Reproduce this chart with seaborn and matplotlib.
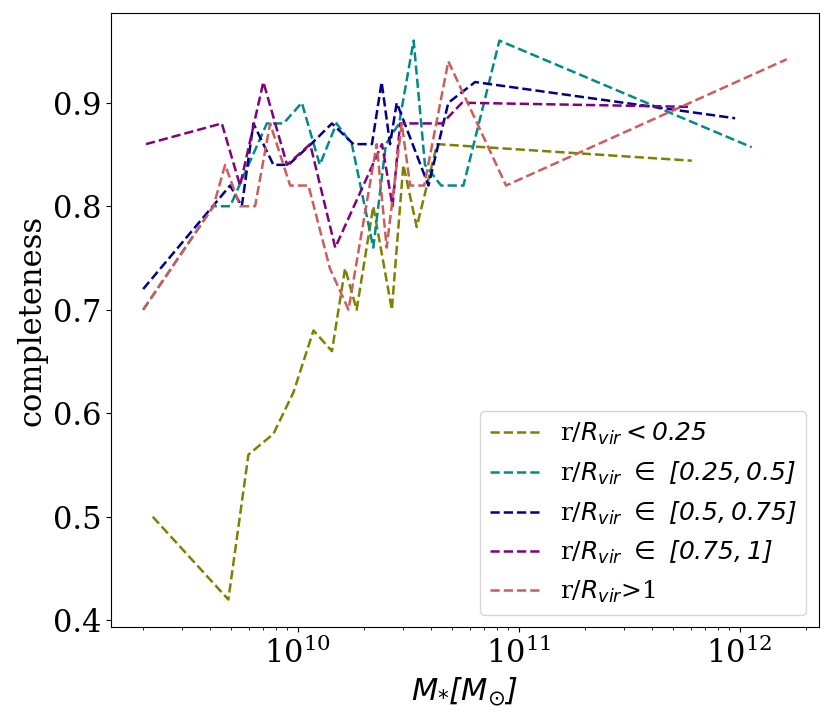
import matplotlib
matplotlib.use("Agg")
import matplotlib.pyplot as plt
import seaborn as sns
import pandas as pd

# ---- data ----
labels = [
    r"r/$R_{vir} < 0.25$",
    r"r/$R_{vir}$ $\in$ $[0.25, 0.5]$",
    r"r/$R_{vir}$ $\in$ $[0.5, 0.75]$",
    r"r/$R_{vir}$ $\in$ $[0.75, 1]$",
    r"r/$R_{vir}$>1",
]
colors = ["olive", "darkcyan", "darkblue", "purple", "indianred"]

mass_r0 = [2.21e9, 4.86e9, 5.99e9, 7.77e9, 9.57e9, 1.18e10, 1.43e10, 1.64e10,
           1.85e10, 2.20e10, 2.67e10, 3.01e10, 3.46e10, 4.28e10, 6.08e11]
comp_r0 = [0.50, 0.42, 0.56, 0.58, 0.62, 0.68, 0.66, 0.74,
           0.70, 0.80, 0.70, 0.84, 0.78, 0.86, 0.844]

mass_r1 = [2.0e9, 4.16e9, 4.95e9, 7.26e9, 8.63e9, 1.045e10, 1.26e10, 1.50e10,
           1.76e10, 2.20e10, 2.51e10, 2.88e10, 3.35e10, 3.77e10, 4.46e10,
           5.63e10, 8.19e10, 1.135e12]
comp_r1 = [0.70, 0.80, 0.80, 0.88, 0.88, 0.90, 0.84, 0.88,
           0.86, 0.76, 0.86, 0.88, 0.96, 0.84, 0.82,
           0.82, 0.96, 0.857]

mass_r2 = [2.0e9, 4.95e9, 5.59e9, 6.31e9, 7.77e9, 9.09e9, 1.15e10, 1.43e10,
           1.79e10, 2.17e10, 2.40e10, 2.62e10, 2.81e10, 3.91e10, 4.81e10,
           6.36e10, 9.55e11]
comp_r2 = [0.72, 0.82, 0.80, 0.88, 0.84, 0.84, 0.86, 0.88,
           0.86, 0.86, 0.92, 0.86, 0.90, 0.82, 0.90,
           0.92, 0.885]

mass_r3 = [2.06e9, 4.54e9, 5.49e9, 7.0e9, 8.96e9, 1.14e10, 1.48e10, 2.41e10,
           2.69e10, 2.91e10, 4.51e10, 5.55e10, 6.08e11]
comp_r3 = [0.86, 0.88, 0.82, 0.92, 0.84, 0.86, 0.76, 0.86,
           0.80, 0.88, 0.88, 0.90, 0.896]

mass_r4 = [2.0e9, 4.16e9, 4.70e9, 5.49e9, 6.42e9, 7.51e9, 9.25e9, 1.12e10,
           1.40e10, 1.70e10, 2.28e10, 2.53e10, 2.96e10, 3.23e10, 3.74e10,
           4.81e10, 8.78e10, 1.636e12]
comp_r4 = [0.70, 0.80, 0.84, 0.80, 0.80, 0.88, 0.82, 0.82,
           0.74, 0.70, 0.86, 0.76, 0.88, 0.82, 0.82,
           0.94, 0.82, 0.942]

masses = [mass_r0, mass_r1, mass_r2, mass_r3, mass_r4]
comps = [comp_r0, comp_r1, comp_r2, comp_r3, comp_r4]

# ---- style ----
plt.rcParams["font.family"] = ["DejaVu Serif"]
plt.rcParams["mathtext.fontset"] = "custom"
plt.rcParams["mathtext.rm"] = "DejaVu Sans:italic"
plt.rcParams["mathtext.it"] = "DejaVu Sans:italic"
plt.rcParams["mathtext.sf"] = "DejaVu Sans"

fig = plt.figure(figsize=(8.3, 7.25), dpi=100)
ax = fig.add_axes([0.1337, 0.1345, 0.853, 0.848])

for m, c, lab, col in zip(masses, comps, labels, colors):
    df = pd.DataFrame({"mass": m, "completeness": c})
    sns.lineplot(data=df, x="mass", y="completeness", ax=ax, color=col,
                 linestyle="--", linewidth=1.8, label=lab, sort=False,
                 estimator=None)

ax.set_xscale("log")
ax.set_xlabel(r"$M_{*}[M_{\odot}]$", fontsize=22)
ax.set_ylabel("completeness", fontsize=22)
ax.tick_params(axis="both", which="major", labelsize=22)
ax.set_yticks([0.4, 0.5, 0.6, 0.7, 0.8, 0.9])
ax.legend(loc="lower right", fontsize=18)

fig.savefig("out.png", dpi=100)
